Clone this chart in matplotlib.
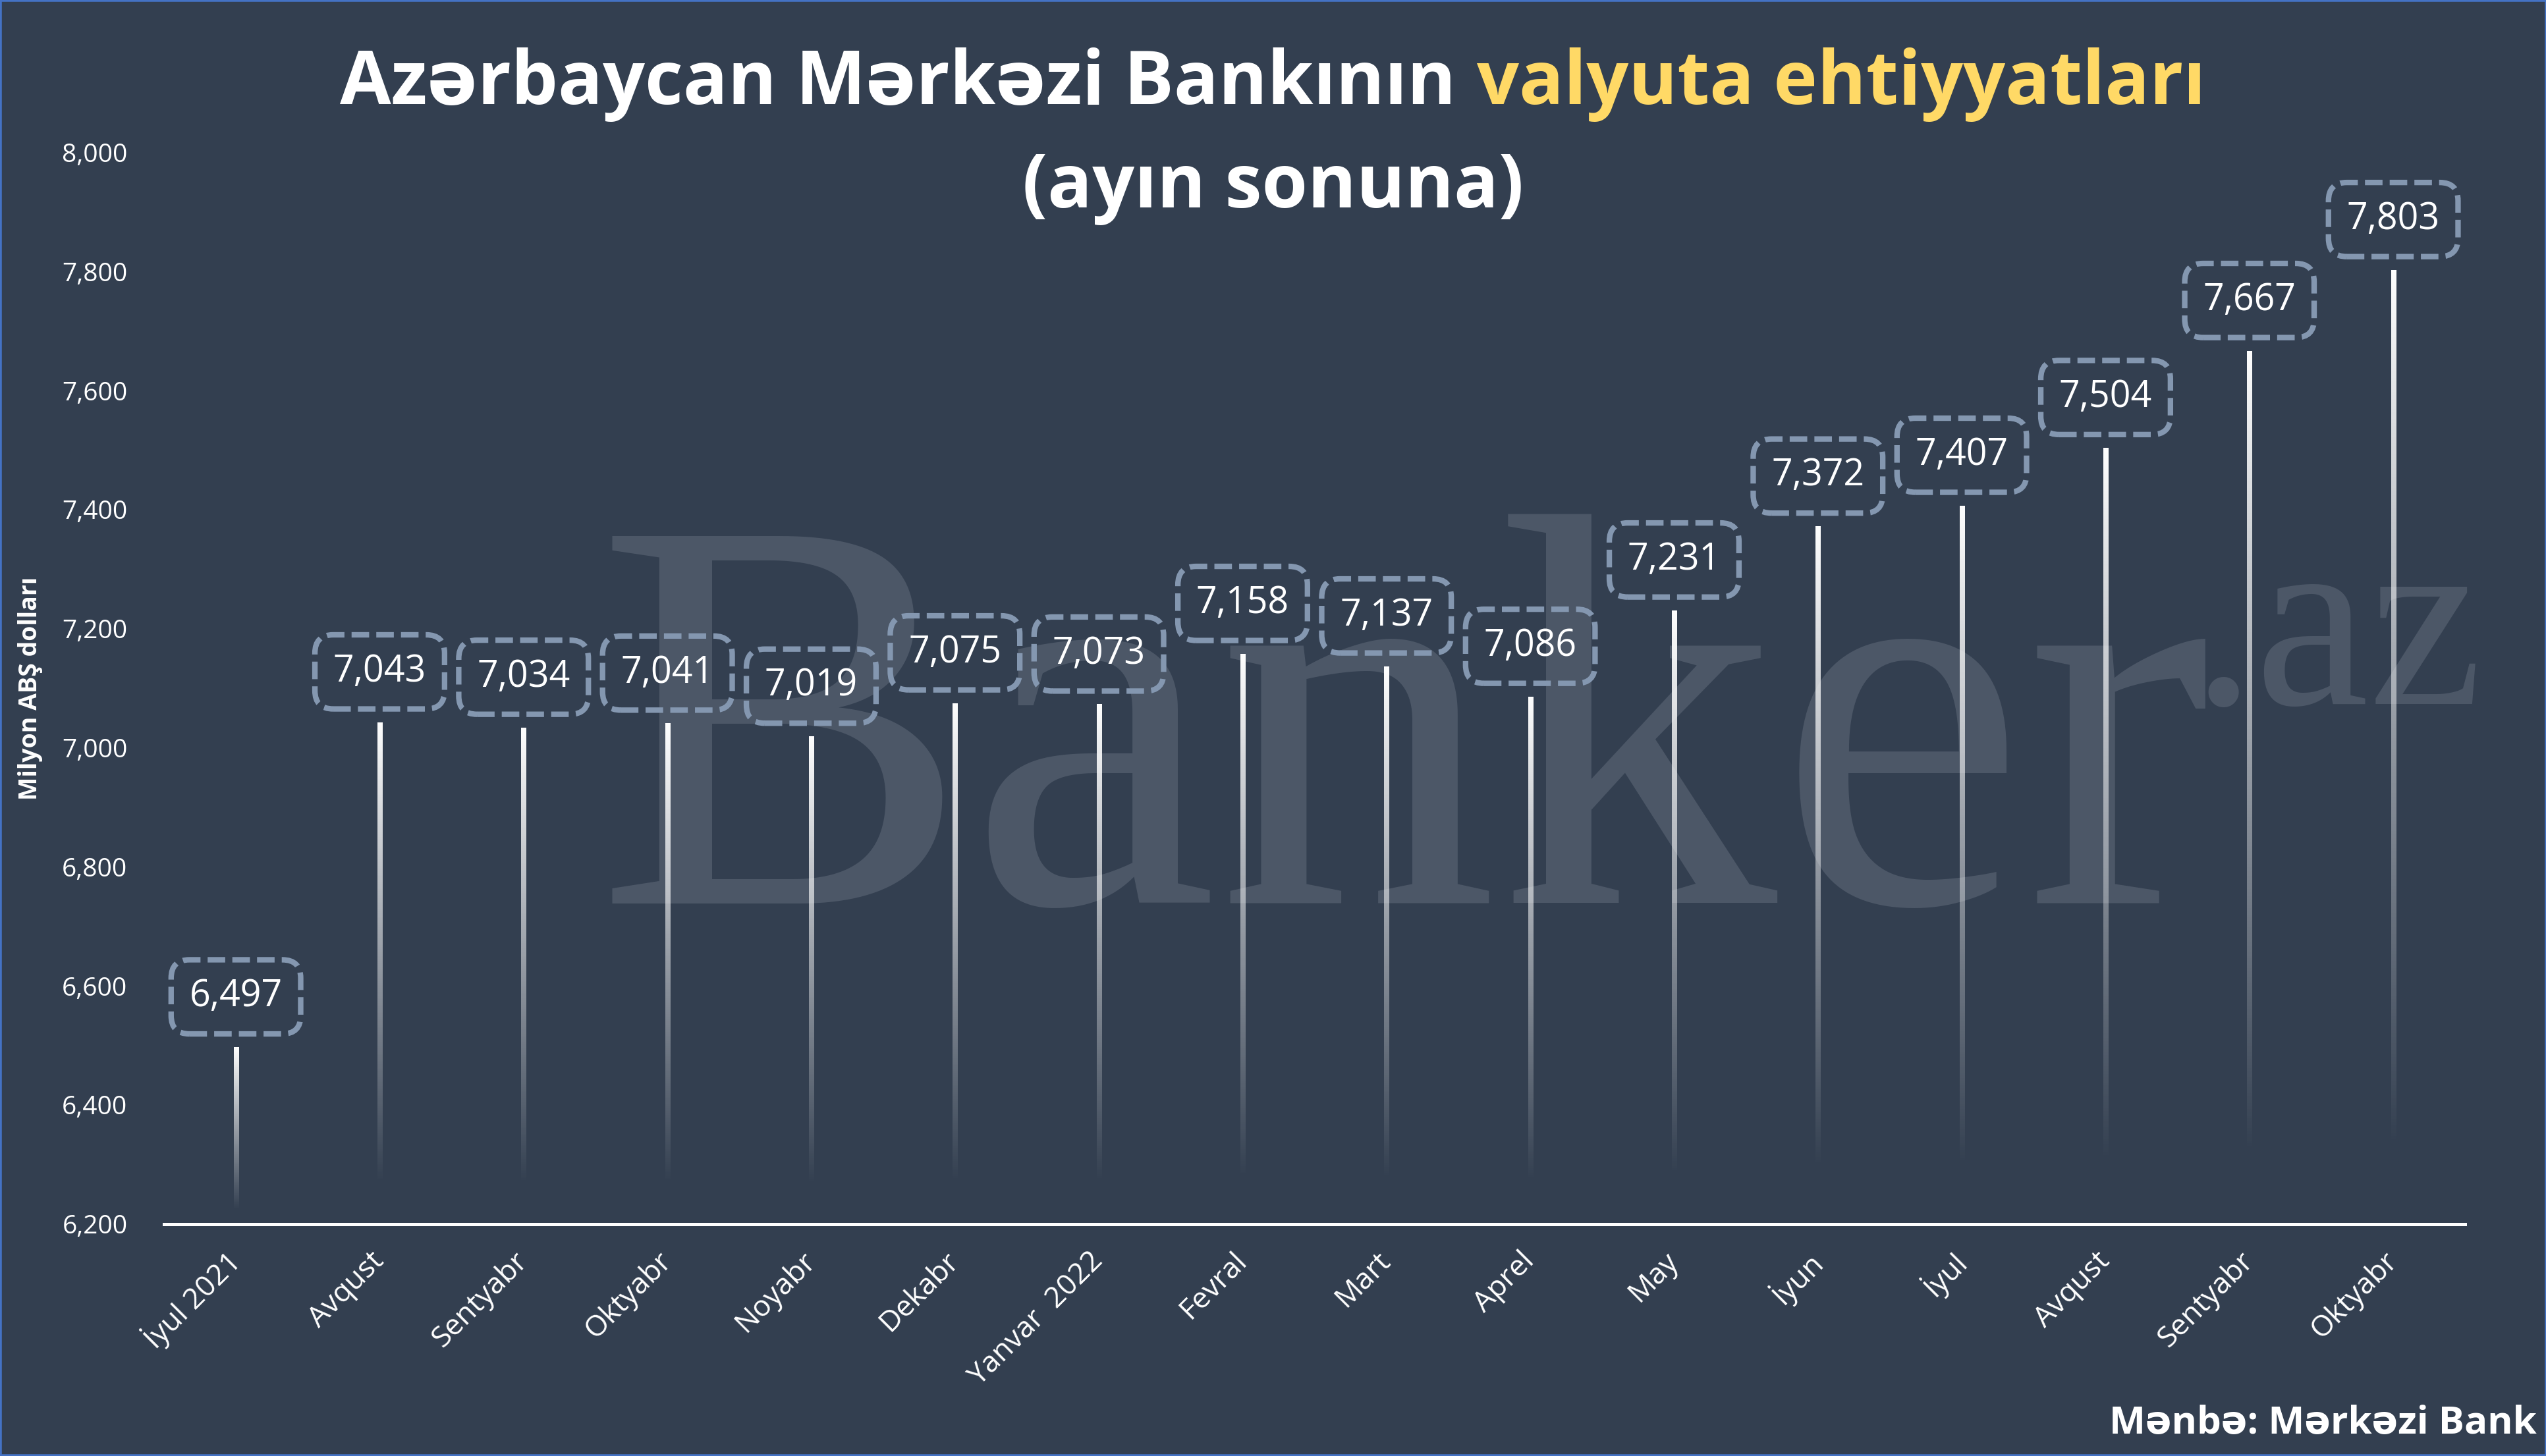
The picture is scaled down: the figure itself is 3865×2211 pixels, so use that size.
import numpy as np
import matplotlib
matplotlib.use("Agg")
import matplotlib.pyplot as plt
from matplotlib.patches import Rectangle

# --- data ---
months = ['İyul 2021', 'Avqust', 'Sentyabr', 'Oktyabr', 'Noyabr', 'Dekabr',
          'Yanvar  2022', 'Fevral', 'Mart', 'Aprel', 'May', 'İyun', 'İyul',
          'Avqust', 'Sentyabr', 'Oktyabr']
reserves = [6497, 7043, 7034, 7041, 7019, 7075, 7073, 7158, 7137, 7086,
            7231, 7372, 7407, 7504, 7667, 7803]
y_ticks = [6200, 6400, 6600, 6800, 7000, 7200, 7400, 7600, 7800, 8000]

bg = '#333F50'
box_col = '#8497B0'
yellow = '#FFD966'
mark = '#4C5767'

plt.rcParams['font.family'] = ['Open Sans', 'DejaVu Sans']

fig = plt.figure(figsize=(38.66, 22.11), dpi=100, facecolor=bg)
ax = fig.add_axes([0.0644, 0.1594, 0.9036, 0.7358])
ax.set_facecolor('none')

# --- watermark ---
fig.text(0.234, 0.380, 'Banker', family='Liberation Serif', fontsize=612,
         color=mark, ha='left', va='baseline', zorder=-5)
fig.text(0.975, 0.5165, '.az', family='Liberation Serif', fontsize=280,
         color=mark, ha='right', va='baseline', zorder=-5)

# --- gradient bars ---
x = np.arange(len(months))
base = y_ticks[0]
bar_w = 0.033
t = np.linspace(0, 1, 256)
alpha = np.clip((t - 0.08) / 0.92, 0, 1)
grad = np.ones((256, 1, 4))
grad[:, 0, 3] = alpha
for xi, v in zip(x, reserves):
    ax.imshow(grad, extent=[xi - bar_w / 2, xi + bar_w / 2, base, v],
              origin='lower', aspect='auto', interpolation='bilinear', zorder=2)
    ax.annotate(f'{v:,}', xy=(xi, v), xytext=(0, 55), textcoords='offset points',
                ha='center', va='center', fontsize=40, color='white', zorder=4,
                bbox=dict(boxstyle='round,pad=0.5', fc='none', ec=box_col,
                          lw=6, ls=(0, (3.2, 1.3))))

ax.set_xlim(-0.5, len(months) - 0.5)
ax.set_ylim(base, y_ticks[-1])
ax.set_yticks(y_ticks)
ax.set_yticklabels([f'{v:,}' for v in y_ticks])
ax.set_xticks(x)
ax.set_xticklabels(months)

for s in ['top', 'right', 'left']:
    ax.spines[s].set_visible(False)
ax.spines['bottom'].set_color('white')
ax.spines['bottom'].set_linewidth(3.6)
ax.tick_params(axis='y', length=0, pad=40, labelsize=28, labelcolor='white')
ax.tick_params(axis='x', length=0, pad=36, labelsize=32, labelcolor='white')
plt.setp(ax.get_xticklabels(), rotation=45, ha='right', va='center',
         rotation_mode='anchor')

ax.set_ylabel('Milyon ABŞ dolları', fontsize=27, fontweight='bold', color='white')
ax.yaxis.set_label_coords(-0.0527, 0.5)

# --- title ---
t1 = fig.text(0.5, 0.9285, 'Azərbaycan Mərkəzi Bankının', fontsize=81,
              fontweight='bold', color='white', ha='left', va='baseline')
t2 = fig.text(0.5, 0.9285, 'valyuta ehtiyyatları', fontsize=81,
              fontweight='bold', color=yellow, ha='left', va='baseline')
fig.canvas.draw()
r = fig.canvas.get_renderer()
W = fig.bbox.width
w1 = t1.get_window_extent(r).width / W
w2 = t2.get_window_extent(r).width / W
gap = 32 / W
x0 = 0.4997 - (w1 + gap + w2) / 2
t1.set_x(x0)
t2.set_x(x0 + w1 + gap)
fig.text(0.5, 0.8575, '(ayın sonuna)', fontsize=81, fontweight='bold',
         color='white', ha='center', va='baseline')

fig.text(0.996, 0.0154, 'Mənbə: Mərkəzi Bank', fontsize=42, fontweight='bold',
         color='white', ha='right', va='baseline')

fig.patches.append(Rectangle((0, 0), 1, 1, transform=fig.transFigure, fill=False,
                             edgecolor='#4472C4', lw=4))

fig.savefig('out.png', dpi=100, facecolor=bg)
